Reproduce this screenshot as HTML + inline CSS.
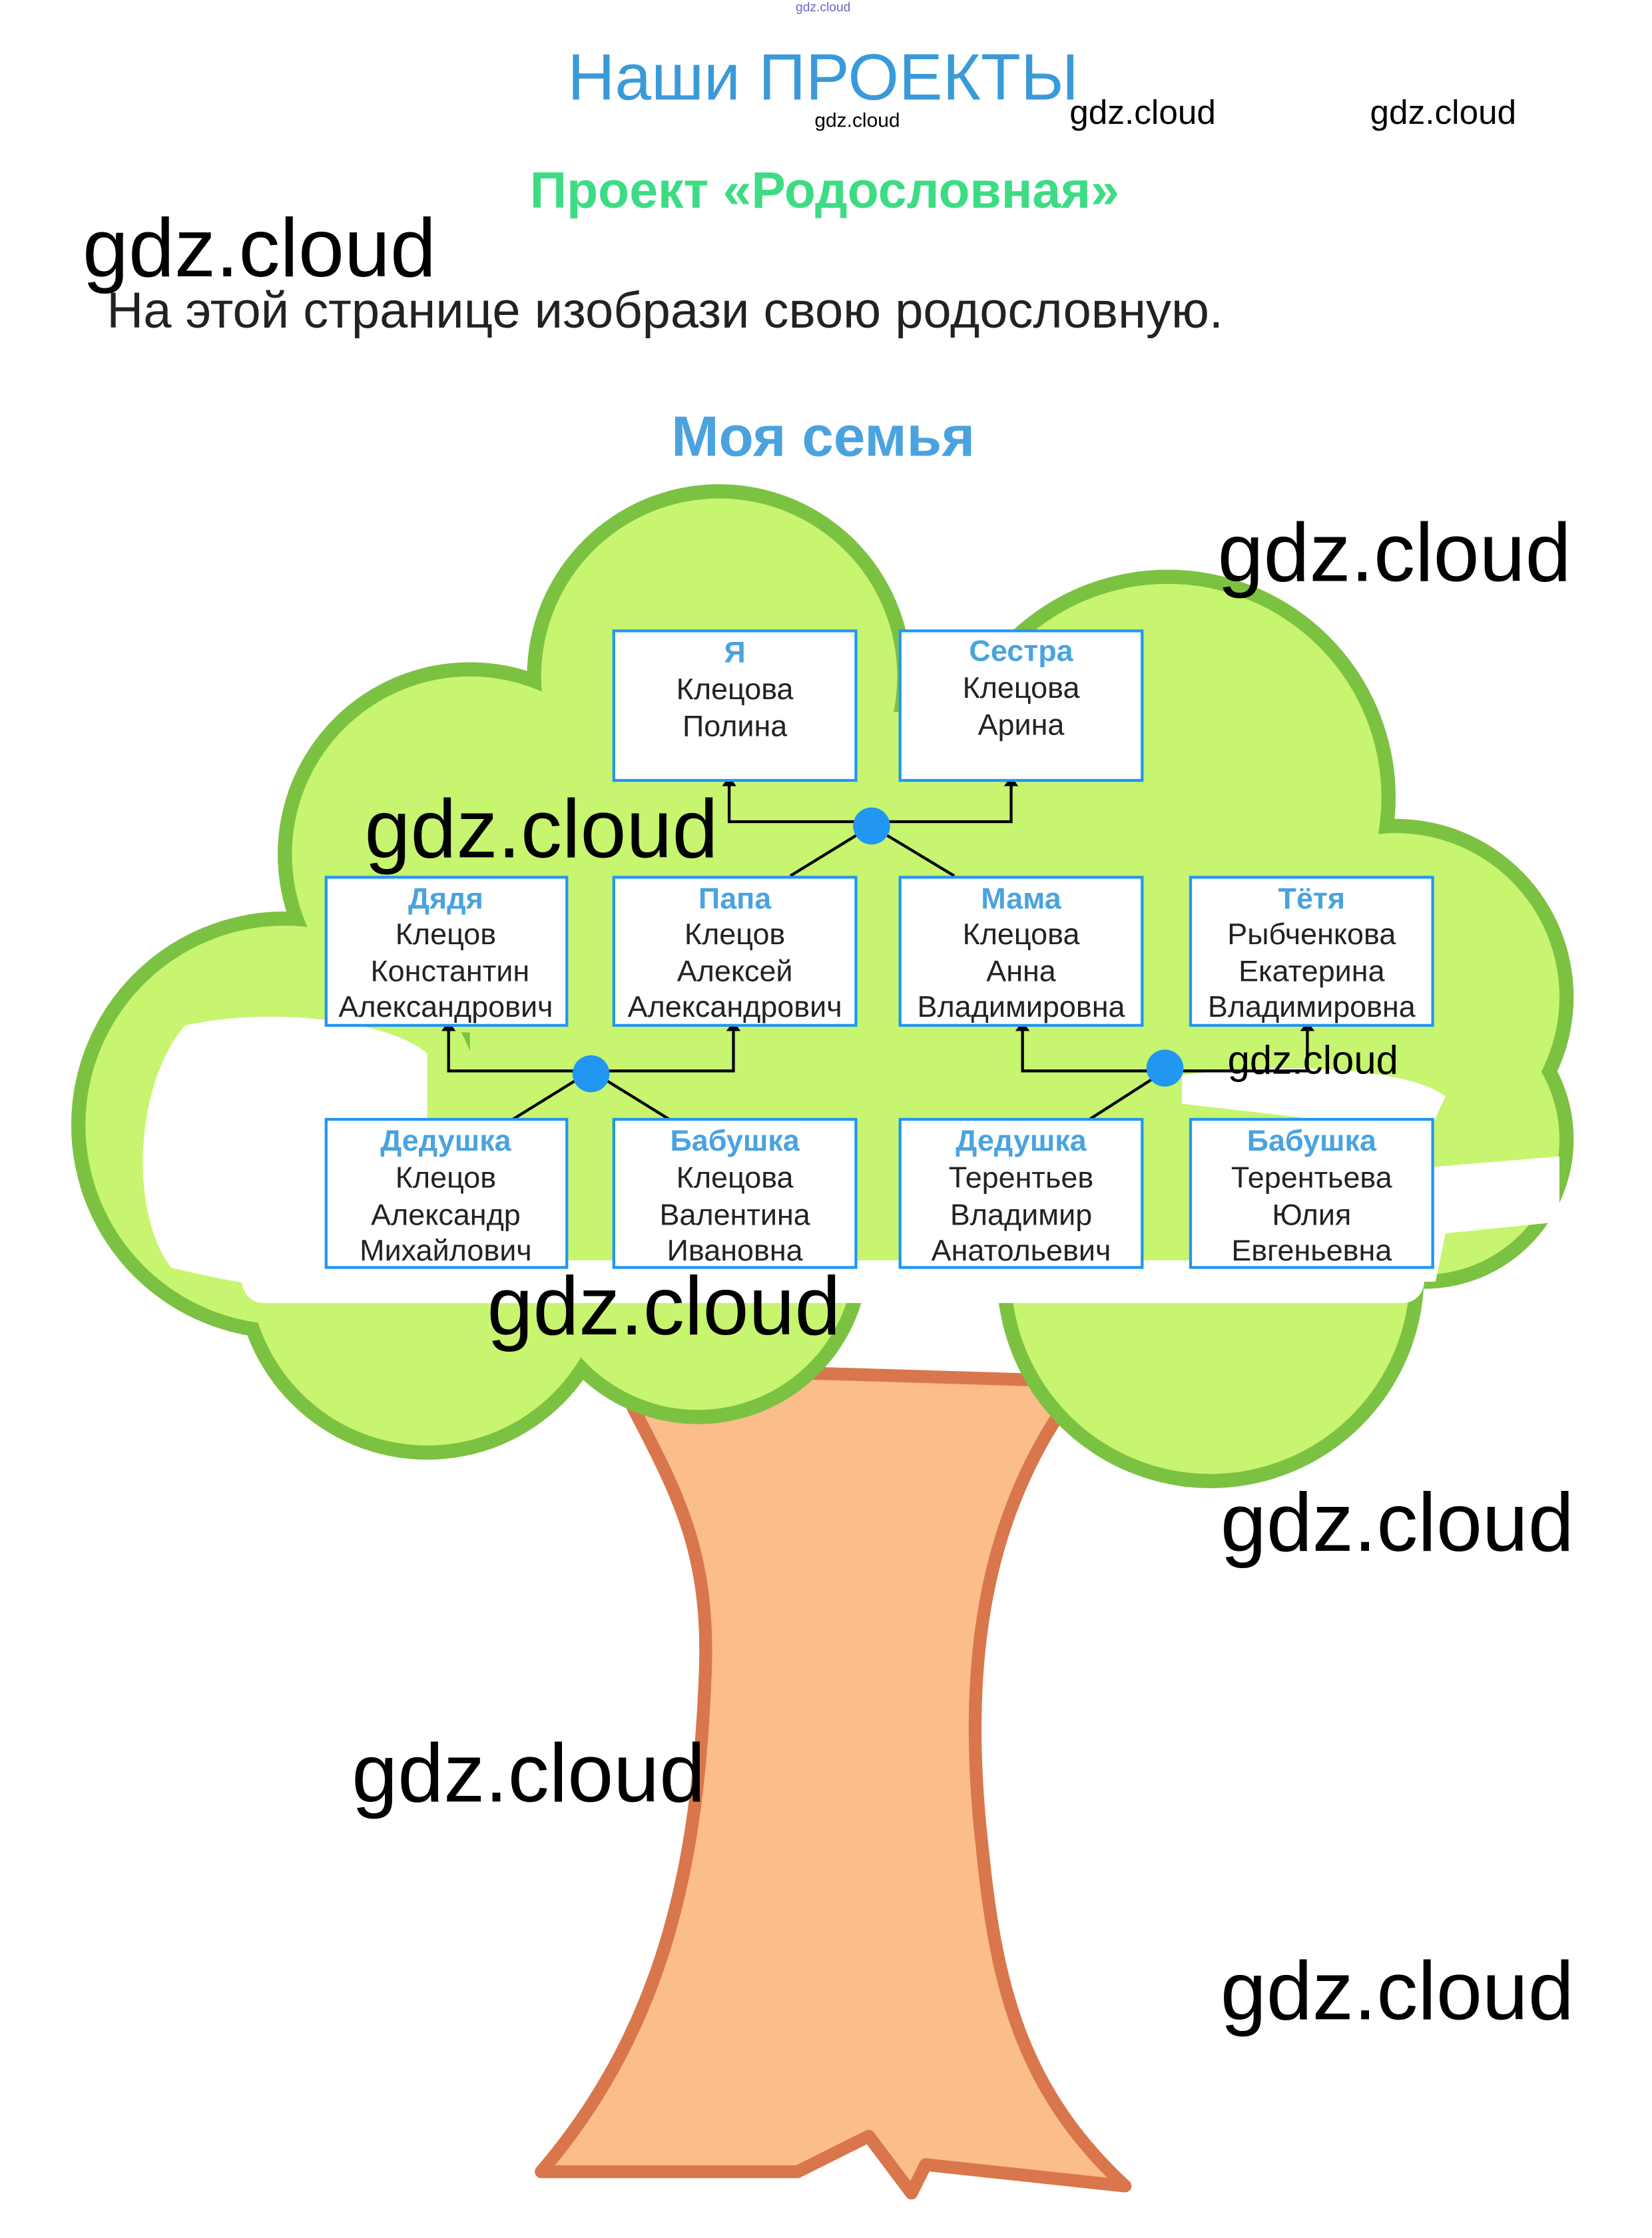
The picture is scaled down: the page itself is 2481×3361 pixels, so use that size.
<!DOCTYPE html>
<html><head><meta charset="utf-8"><style>
html,body{margin:0;padding:0;background:#fff}
svg{display:block}
text{font-family:"Liberation Sans","DejaVu Sans",sans-serif}
</style></head><body>
<svg width="2481" height="3361" viewBox="0 0 1160 1571.5" preserveAspectRatio="none" xmlns="http://www.w3.org/2000/svg">
<rect width="1160" height="1572" fill="#fff"/>
<!-- trunk -->
<path d="M430,960 C470,1040 500,1080 495,1180 C490,1300 470,1420 380,1525 L560,1525 L610,1500 L640,1540 L650,1520 L790,1535 C720,1470 700,1400 690,1300 C675,1170 690,1060 760,970 Z" fill="#fbbd8a" stroke="#d9764c" stroke-width="9" stroke-linejoin="round"/>
<!-- crown outline -->
<g fill="#7cc242">
<circle cx="505" cy="475" r="135"/>
<circle cx="820" cy="560" r="160"/>
<circle cx="330" cy="600" r="135"/>
<circle cx="980" cy="700" r="125"/>
<circle cx="200" cy="790" r="150"/>
<circle cx="300" cy="890" r="135"/>
<circle cx="490" cy="880" r="120"/>
<circle cx="850" cy="895" r="150"/>
<circle cx="1000" cy="800" r="105"/>
</g>
<g fill="#c7f56f">
<circle cx="505" cy="475" r="125"/>
<circle cx="820" cy="560" r="150"/>
<circle cx="330" cy="600" r="125"/>
<circle cx="980" cy="700" r="115"/>
<circle cx="200" cy="790" r="140"/>
<circle cx="300" cy="890" r="125"/>
<circle cx="490" cy="880" r="110"/>
<circle cx="850" cy="895" r="140"/>
<circle cx="1000" cy="800" r="95"/>
<rect x="330" y="500" width="610" height="400"/>
</g>
<!-- white smudges -->
<g fill="#fff">
<path d="M130,720 C200,705 280,720 300,740 L300,900 C250,915 180,905 120,890 C90,850 95,760 130,720 Z"/>
<rect x="170" y="885" width="830" height="30" rx="15"/>
<path d="M830,755 C900,745 990,750 1015,770 C1005,790 1000,805 1000,820 L1095,812 L1095,858 L1015,866 L1008,900 L960,900 L960,790 L830,775 Z"/>
</g>
<!-- connectors -->
<g stroke="#000" stroke-width="2" fill="none">
<path d="M512,548 L512,577 L710,577 L710,548"/>
<path d="M555,615 L612,580 L670,615"/>
<path d="M315,720 L315,752 L515,752 L515,720"/>
<path d="M360,786 L415,752 L470,786"/>
<path d="M718,720 L718,752 L918,752 L918,720"/>
<path d="M765,786 L818,752"/>
</g>
<g fill="#000">
<path d="M507,552 L512,545 L517,552Z"/><path d="M705,552 L710,545 L715,552Z"/>
<path d="M310,724 L315,717 L320,724Z"/><path d="M510,724 L515,717 L520,724Z"/>
<path d="M713,724 L718,717 L723,724Z"/><path d="M913,724 L918,717 L923,724Z"/>
</g>
<g fill="#2196f3"><circle cx="612" cy="580" r="13"/><circle cx="415" cy="754" r="13"/><circle cx="818" cy="750" r="13"/></g>
<!-- boxes -->
<g fill="#fff" stroke="#2196f3" stroke-width="2">
<rect x="431" y="443" width="170" height="105"/><rect x="632" y="443" width="170" height="105"/>
<rect x="229" y="616" width="169" height="104"/><rect x="431" y="616" width="170" height="104"/><rect x="632" y="616" width="170" height="104"/><rect x="836" y="616" width="170" height="104"/>
<rect x="229" y="786" width="169" height="104"/><rect x="431" y="786" width="170" height="104"/><rect x="632" y="786" width="170" height="104"/><rect x="836" y="786" width="170" height="104"/>
</g>
<g font-size="21" text-anchor="middle">
<g fill="#4aa3df" font-weight="bold"><text x="516" y="465">Я</text><text x="717" y="464">Сестра</text>
<text x="313" y="638">Дядя</text><text x="516" y="638">Папа</text><text x="717" y="638">Мама</text><text x="921" y="638">Тётя</text>
<text x="313" y="808">Дедушка</text><text x="516" y="808">Бабушка</text><text x="717" y="808">Дедушка</text><text x="921" y="808">Бабушка</text></g>
<g fill="#222">
<text x="516" y="491">Клецова</text><text x="516" y="517">Полина</text>
<text x="717" y="490">Клецова</text><text x="717" y="516">Арина</text>
<text x="313" y="663">Клецов</text><text x="316" y="689">Константин</text><text x="313" y="714">Александрович</text>
<text x="516" y="663">Клецов</text><text x="516" y="689">Алексей</text><text x="516" y="714">Александрович</text>
<text x="717" y="663">Клецова</text><text x="717" y="689">Анна</text><text x="717" y="714">Владимировна</text>
<text x="921" y="663">Рыбченкова</text><text x="921" y="689">Екатерина</text><text x="921" y="714">Владимировна</text>
<text x="313" y="834">Клецов</text><text x="313" y="860">Александр</text><text x="313" y="885">Михайлович</text>
<text x="516" y="834">Клецова</text><text x="516" y="860">Валентина</text><text x="516" y="885">Ивановна</text>
<text x="717" y="834">Терентьев</text><text x="717" y="860">Владимир</text><text x="717" y="885">Анатольевич</text>
<text x="921" y="834">Терентьева</text><text x="921" y="860">Юлия</text><text x="921" y="885">Евгеньевна</text>
</g></g>
<!-- headings -->
<text x="578" y="70" font-size="46" fill="#3a9ad9" text-anchor="middle">Наши ПРОЕКТЫ</text>
<text x="579" y="146" font-size="36" font-weight="bold" fill="#3ddc84" text-anchor="middle">Проект «Родословная»</text>
<text x="75" y="230" font-size="35.5" fill="#222">На этой странице изобрази свою родословную.</text>
<text x="578" y="320" font-size="40" font-weight="bold" fill="#4aa3df" text-anchor="middle">Моя семья</text>
<!-- watermarks -->
<g fill="#000">
<text x="578" y="8" font-size="9" fill="#6666cc" text-anchor="middle">gdz.cloud</text>
<text x="572" y="89" font-size="14">gdz.cloud</text>
<text x="751" y="87" font-size="24">gdz.cloud</text>
<text x="962" y="87" font-size="24">gdz.cloud</text>
<text x="58" y="194" font-size="58">gdz.cloud</text>
<text x="855" y="408" font-size="58">gdz.cloud</text>
<text x="256" y="602" font-size="58">gdz.cloud</text>
<text x="862" y="754" font-size="28">gdz.cloud</text>
<text x="342" y="937" font-size="58">gdz.cloud</text>
<text x="857" y="1089" font-size="58">gdz.cloud</text>
<text x="247" y="1265" font-size="58">gdz.cloud</text>
<text x="857" y="1418" font-size="58">gdz.cloud</text>
</g>
</svg>
</body></html>
